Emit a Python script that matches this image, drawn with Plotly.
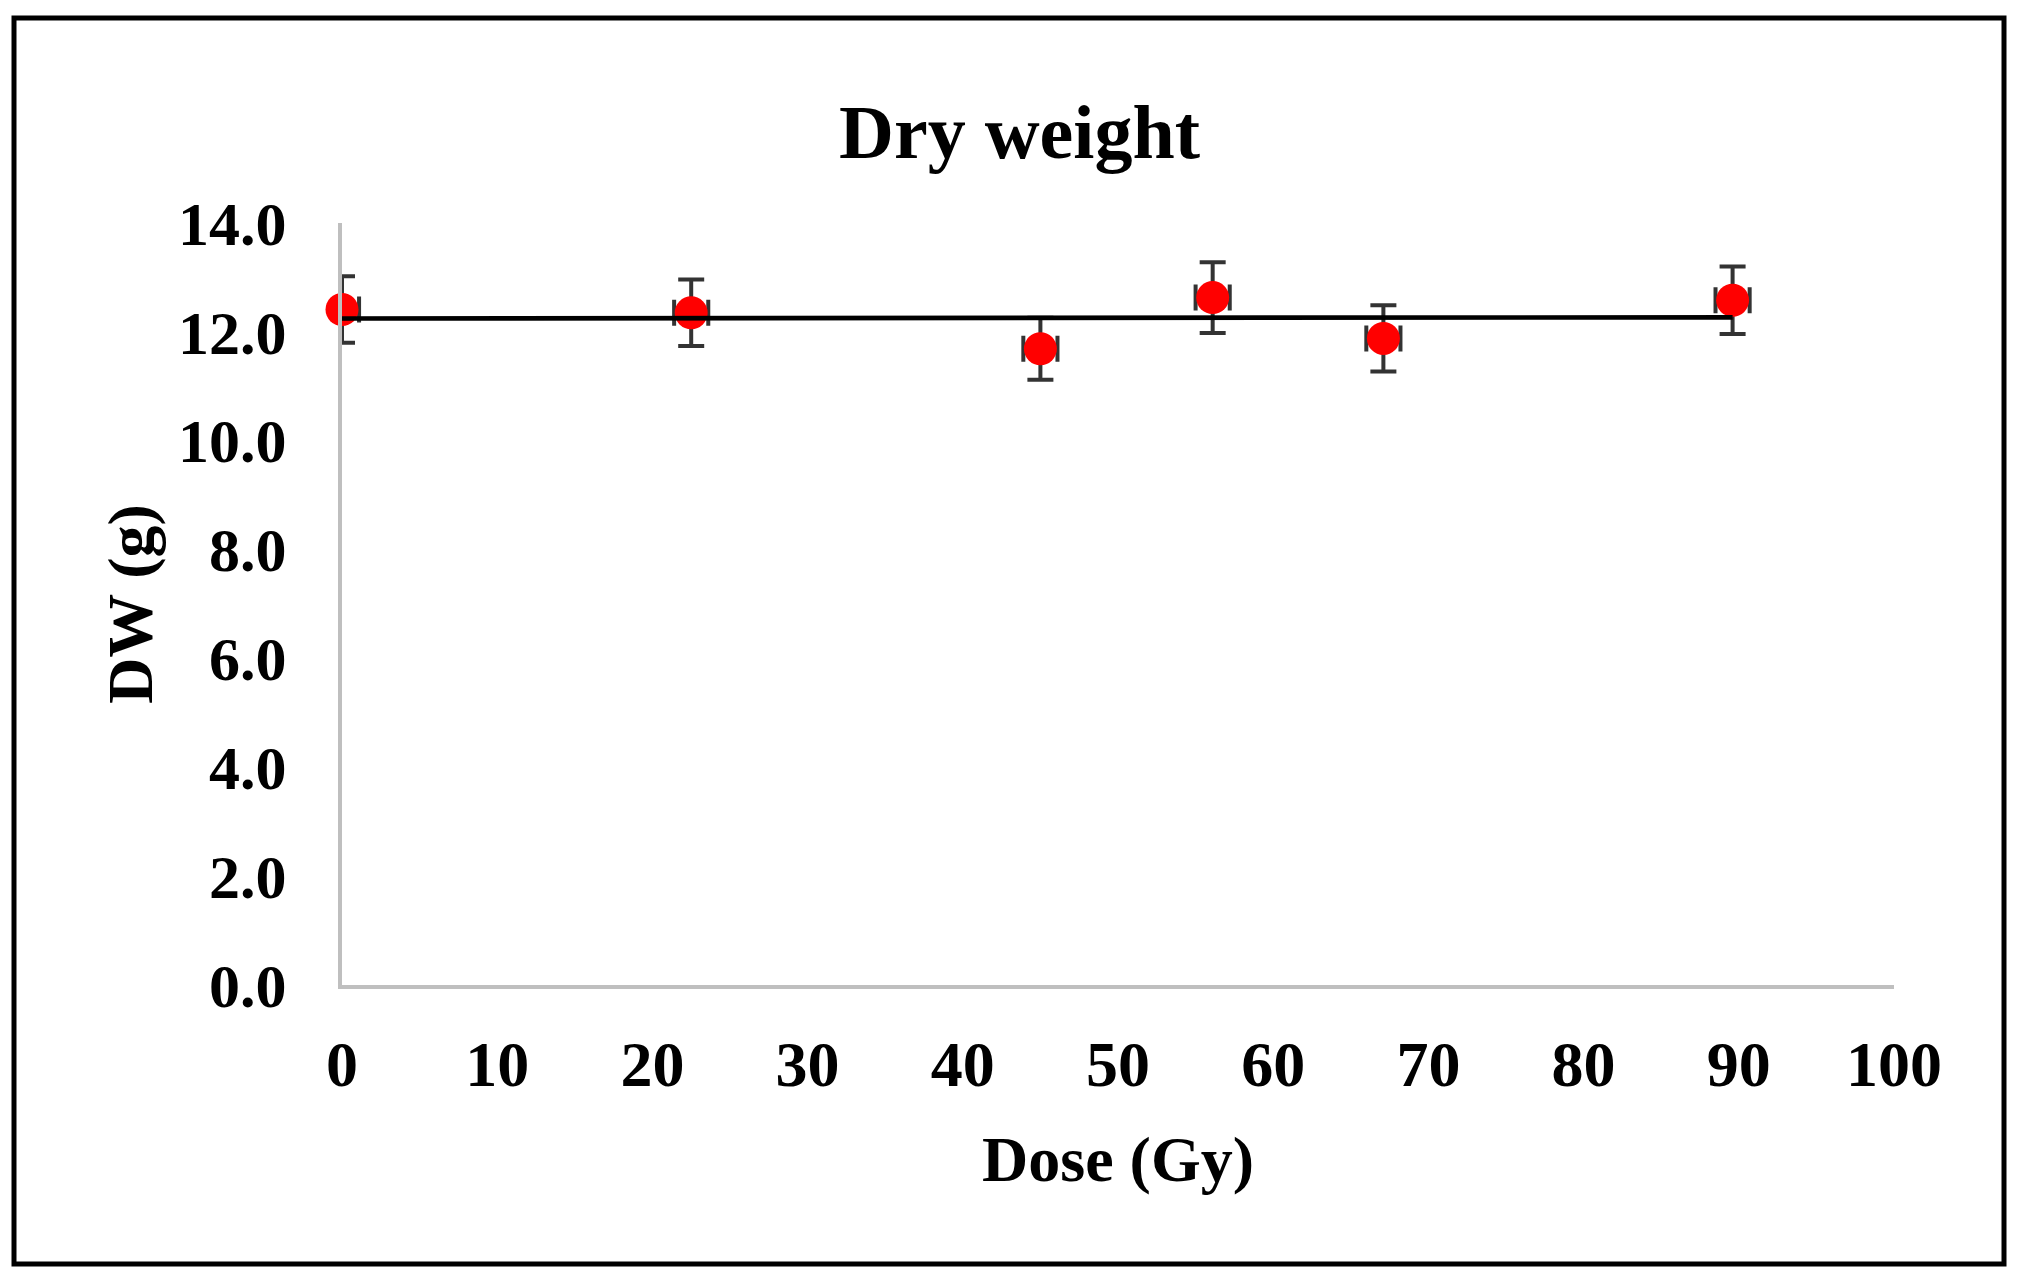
import numpy as np
import plotly.graph_objects as go

# ---- data ----
dose = [0, 22.5, 45, 56.1, 67.1, 89.6]
dry_weight = [12.41, 12.35, 11.69, 12.63, 11.88, 12.58]
dw_err = [0.61, 0.61, 0.57, 0.65, 0.61, 0.62]
dose_err = [1.1, 1.1, 1.1, 1.1, 1.1, 1.1]
dose_err_minus = [0, 1.1, 1.1, 1.1, 1.1, 1.1]

title_text = "Dry weight"
x_title = "Dose (Gy)"
y_title = "DW (g)"
x_ticks = [0, 10, 20, 30, 40, 50, 60, 70, 80, 90, 100]
y_ticks = [0, 2, 4, 6, 8, 10, 12, 14]

# ---- layout geometry (pixels) ----
W, H = 2027, 1283
L, R, T, B = 342, W - 1894, 223, H - 985
FONT = "Liberation Serif"

# linear trendline through the points
slope, intercept = np.polyfit(dose, dry_weight, 1)
trend_x = [min(dose), max(dose)]
trend_y = [intercept + slope * v for v in trend_x]

fig = go.Figure()
fig.add_trace(go.Scatter(
    x=dose, y=dry_weight, mode="markers",
    marker=dict(color="#FF0000", size=33, line=dict(width=0)),
    error_y=dict(type="data", array=dw_err, visible=True,
                 color="#333333", thickness=4, width=13),
    error_x=dict(type="data", array=dose_err, arrayminus=dose_err_minus,
                 symmetric=False, visible=True,
                 color="#333333", thickness=4, width=13),
    cliponaxis=False, showlegend=False,
))
fig.add_trace(go.Scatter(
    x=trend_x, y=trend_y, mode="lines",
    line=dict(color="#000000", width=4.7),
    cliponaxis=False, showlegend=False, hoverinfo="skip",
))

# outer border of the chart area
px = lambda x: (x - L) / (W - L - R)
py = lambda y: (H - B - y) / (H - T - B)
fig.add_shape(type="rect", xref="paper", yref="paper",
              x0=px(14), x1=px(2004), y0=py(1264), y1=py(18),
              line=dict(color="#000000", width=5), layer="below")

fig.update_layout(
    width=W, height=H,
    margin=dict(l=L, r=R, t=T, b=B, pad=0),
    paper_bgcolor="#FFFFFF", plot_bgcolor="#FFFFFF",
    font=dict(family=FONT, color="#000000"),
    title=dict(text="<b>%s</b>" % title_text, x=0.503, xref="container",
               xanchor="center", y=1 - 131 / H, yref="container",
               yanchor="middle", font=dict(size=76, family=FONT, color="#000000")),
    xaxis=dict(
        range=[0, 100], tickvals=x_ticks, ticktext=["<b>%d</b>" % v for v in x_ticks],
        showgrid=False, zeroline=False, showline=True, linecolor="#BFBFBF",
        linewidth=4, ticks="", ticklabelstandoff=20,
        tickfont=dict(size=64, family=FONT, color="#000000"),
        title=dict(text="<b>%s</b>" % x_title, standoff=38,
                   font=dict(size=64, family=FONT, color="#000000")),
    ),
    yaxis=dict(
        range=[0, 14], tickvals=y_ticks, ticktext=["<b>%.1f</b>" % v for v in y_ticks],
        showgrid=False, zeroline=False, showline=True, linecolor="#BFBFBF",
        linewidth=4, ticks="", ticklabelstandoff=39,
        tickfont=dict(size=62, family=FONT, color="#000000"),
        title=dict(text="<b>%s</b>" % y_title, standoff=6,
                   font=dict(size=64, family=FONT, color="#000000")),
    ),
)

fig.write_html("out.html", config={"displayModeBar": False},
               post_script="document.body.style.margin='0';document.body.style.overflow='hidden';")
